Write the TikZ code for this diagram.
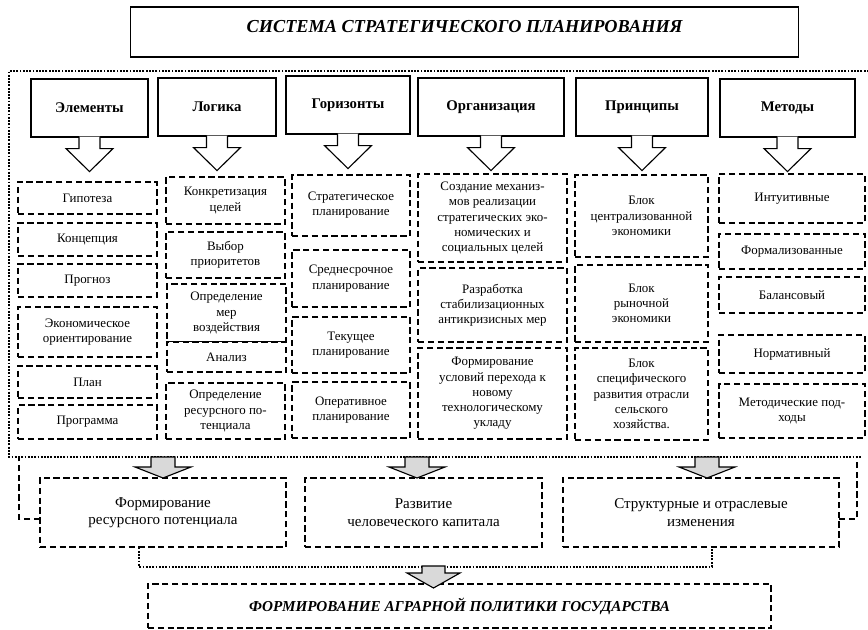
\documentclass[tikz,border=0pt]{standalone}
\usepackage{fontspec}
\setmainfont{Liberation Serif}
\usetikzlibrary{calc}

\tikzset{
  hdrbox/.style={draw, line width=0.8pt, fill=white, minimum height=1.45cm, align=center,
    font=\fontsize{10.5}{13}\selectfont\bfseries},
  itembox/.style={draw, line width=0.9pt, dash pattern=on 4.5pt off 2.5pt, fill=white,
    align=center, inner sep=1pt, font=\fontsize{9.2}{10.8}\selectfont},
  colA/.style={itembox, minimum width=3.475cm},
  colB/.style={itembox, minimum width=2.975cm},
  colC/.style={itembox, minimum width=2.95cm},
  colD/.style={itembox, minimum width=3.725cm},
  colE/.style={itembox, minimum width=3.325cm},
  colF/.style={itembox, minimum width=3.65cm},
  resbox/.style={draw, line width=0.9pt, dash pattern=on 4.5pt off 2.5pt, fill=white,
    align=center, minimum height=1.725cm, font=\fontsize{10.7}{12.3}\selectfont},
  dotline/.style={line width=1.6pt, dash pattern=on 1.3pt off 1pt},
  dashline/.style={line width=0.9pt, dash pattern=on 4.5pt off 2.5pt},
  grayarrow/.style={draw, line width=0.8pt, fill=gray!30},
}

\begin{document}
\begin{tikzpicture}[x=0.025cm, y=-0.025cm]
    \useasboundingbox (0,0) rectangle (868,630);

    % Title
    \node[draw, line width=0.8pt, minimum width=16.675cm, minimum height=1.25cm,
          text height=9pt, text depth=8pt, font=\fontsize{13}{15}\selectfont\bfseries\itshape]
          (title) at (464.5,32) {СИСТЕМА СТРАТЕГИЧЕСКОГО ПЛАНИРОВАНИЯ};

    % Dotted frame
    \draw[dotline] (872,71) -| (9,457) -- (862,457);

    % Headers
    \node[hdrbox, minimum width=2.925cm] (hEl) at (89.5,108) {Элементы};
    \node[hdrbox, minimum width=2.95cm]  (hLo) at (217,107) {Логика};
    \node[hdrbox, minimum width=3.1cm]   (hHo) at (348,105) {Горизонты};
    \node[hdrbox, minimum width=3.65cm]  (hOr) at (491,107) {Организация};
    \node[hdrbox, minimum width=3.3cm]   (hPr) at (642,107) {Принципы};
    \node[hdrbox, minimum width=3.375cm] (hMe) at (787.5,108) {Методы};

    % Header arrows
    \foreach \h in {hEl,hLo,hHo,hOr,hPr,hMe}
      \draw[line width=0.8pt, fill=white] ($(\h.south)+(-10.5,-1)$) -- ++(0,12) -- ++(-13,0)
        -- ($(\h.south)+(0,34)$) -- ($(\h.south)+(23.5,11)$) -- ++(-13,0) -- ($(\h.south)+(10.5,-1)$);

    % Elements
    \node[colA, minimum height=0.8cm]   (a1) at (87.5,198) {Гипотеза};
    \node[colA, minimum height=0.825cm] (a2) at (87.5,239.5) {Концепция};
    \node[colA, minimum height=0.825cm] (a3) at (87.5,280.5) {Прогноз};
    \node[colA, minimum height=1.25cm]  (a4) at (87.5,332) {Экономическое\\ориентирование};
    \node[colA, minimum height=0.8cm]   (a5) at (87.5,382) {План};
    \node[colA, minimum height=0.85cm]  (a6) at (87.5,422) {Программа};

    % Logic
    \node[colB, minimum height=1.175cm] (b1) at (225.5,200.5) {Конкретизация\\целей};
    \node[colB, minimum height=1.15cm]  (b2) at (225.5,255) {Выбор\\приоритетов};
    \node[colB, minimum height=1.45cm]  (b3) at (226.5,313) {Определение\\мер\\воздействия};
    \node[colB, minimum height=0.75cm]  (b4) at (226.5,357) {Анализ};
    \node[colB, minimum height=1.4cm]   (b5) at (225.5,411) {Определение\\ресурсного по-\\тенциала};

    % Horizons
    \node[colC, minimum height=1.525cm] (c1) at (351,205.5) {Стратегическое\\планирование};
    \node[colC, minimum height=1.425cm] (c2) at (351,278.5) {Среднесрочное\\планирование};
    \node[colC, minimum height=1.4cm]   (c3) at (351,345) {Текущее\\планирование};
    \node[colC, minimum height=1.4cm]   (c4) at (351,410) {Оперативное\\планирование};

    % Organization
    \node[colD, minimum height=2.2cm]   (d1) at (492.5,218) {Создание механиз-\\мов реализации\\стратегических эко-\\номических и\\социальных целей};
    \node[colD, minimum height=1.85cm]  (d2) at (492.5,305) {Разработка\\стабилизационных\\антикризисных мер};
    \node[colD, minimum height=2.275cm] (d3) at (492.5,393.5) {Формирование\\условий перехода к\\новому\\технологическому\\укладу};

    % Principles
    \node[colE, minimum height=2.05cm]  (e1) at (641.5,216) {Блок\\централизованной\\экономики};
    \node[colE, minimum height=1.925cm] (e2) at (641.5,303.5) {Блок\\рыночной\\экономики};
    \node[colE, minimum height=2.3cm]   (e3) at (641.5,394) {Блок\\специфического\\развития отрасли\\сельского\\хозяйства.};

    % Methods
    \node[colF, minimum height=1.225cm] (f1) at (792,198.5) {Интуитивные};
    \node[colF, minimum height=0.875cm] (f2) at (792,251.5) {Формализованные};
    \node[colF, minimum height=0.9cm]   (f3) at (792,295) {Балансовый};
    \node[colF, minimum height=0.95cm]  (f4) at (792,354) {Нормативный};
    \node[colF, minimum height=1.35cm]  (f5) at (792,411) {Методические под-\\ходы};

    % Results
    \draw[dashline] (40,519) -| (19,457);
    \draw[dashline] (839,519) -| (857,457);
    \node[resbox, minimum width=6.15cm]  (r1) at (163,512.5) {Формирование\\ресурсного потенциала};
    \node[resbox, minimum width=5.925cm] (r2) at (423.5,512.5) {Развитие\\человеческого капитала};
    \node[resbox, minimum width=6.9cm]   (r3) at (701,512.5) {Структурные и отраслевые\\изменения};

    \coordinate (g1) at (163,457);
    \coordinate (g2) at (417,457);
    \coordinate (g3) at (707,457);
    \foreach \g in {g1,g2,g3}
      \draw[grayarrow] ($(\g)+(-12,0)$) -- ++(0,10) -- ++(-16,0) -- ++(28,11) -- ++(28,-11)
        -- ++(-16,0) -- ++(0,-10) -- cycle;

    % Goal
    \draw[dotline] ($(r1.south)+(-24,0)$) |- ($(r3.south)+(11,19)$) -- ($(r3.south)+(11,0)$);
    \node[draw, dashline, fill=white, minimum width=15.575cm, minimum height=1.1cm,
          font=\fontsize{10.8}{13}\selectfont\bfseries\itshape]
          (goal) at (459.5,606) {ФОРМИРОВАНИЕ АГРАРНОЙ ПОЛИТИКИ ГОСУДАРСТВА};
    \coordinate (g4) at (433.5,566);
    \draw[grayarrow] ($(g4)+(-11.5,0)$) -- ++(0,7) -- ++(-15,0) -- ++(26.5,15) -- ++(26.5,-15)
      -- ++(-15,0) -- ++(0,-7) -- cycle;
\end{tikzpicture}
\end{document}
